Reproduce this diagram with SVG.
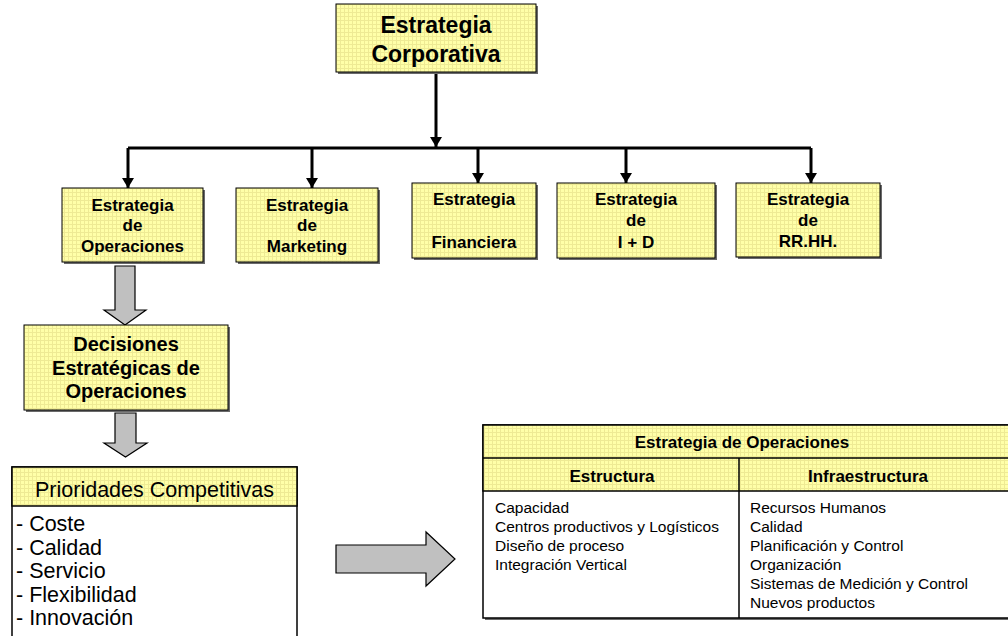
<svg xmlns="http://www.w3.org/2000/svg" width="1008" height="636" viewBox="0 0 1008 636">
  <defs>
    <!-- light yellow fill with a fine grid texture -->
    <pattern id="grid" width="4" height="4" patternUnits="userSpaceOnUse">
      <rect width="4" height="4" fill="#FFFFA8"/>
      <path d="M0 0.5H4M0.5 0V4" stroke="#EEEA94" stroke-width="1"/>
    </pattern>
    <marker id="tip" viewBox="0 0 10 12" refX="10" refY="6" markerWidth="10" markerHeight="12" markerUnits="userSpaceOnUse" orient="auto">
      <path d="M0 0L10 6L0 12Z" fill="#000"/>
    </marker>
    <style>
      .box { fill: url(#grid); stroke: #000; stroke-width: 1; }
      .shadow { fill: #6a6a6a; }
      .plain { fill: #fff; stroke: #000; stroke-width: 1.5; }
      .bar { fill: none; stroke: #000; stroke-width: 3; }
      .arrow { stroke: #000; stroke-width: 3; fill: none; marker-end: url(#tip); }
      .block { fill: #C0C0C0; stroke: #000; stroke-width: 1.2; stroke-linejoin: miter; }
      .rule { stroke: #000; stroke-width: 1.5; fill: none; }
      text { font-family: "Liberation Sans", Arial, sans-serif; fill: #000; }
      .b { font-weight: bold; text-anchor: middle; }
      .t23 { font-size: 23px; }
      .t20 { font-size: 20px; }
      .t17 { font-size: 17px; }
      .reg21 { font-size: 21.5px; }
      .reg15 { font-size: 15.5px; }
    </style>
  </defs>

  <!-- connectors -->
  <g id="connectors">
    <path class="arrow" d="M436 72V147"/>
    <path class="bar" d="M128 148H811"/>
    <path class="arrow" d="M128 148V188"/>
    <path class="arrow" d="M312 148V188"/>
    <path class="arrow" d="M478 148V183"/>
    <path class="arrow" d="M626 148V183"/>
    <path class="arrow" d="M811 148V183"/>
    <!-- block arrows -->
    <path class="block" d="M115 266H135V310H146L125 325L104 310H115Z"/>
    <path class="block" d="M115 413H136V443H147L125.5 457L104 443H115Z"/>
    <path class="block" d="M336 545H426V532L455 559L426 586V573H336Z"/>
  </g>

  <g id="corporativa">
    <rect class="shadow" x="338" y="6" width="200" height="68"/>
    <rect class="box" x="336" y="4" width="200" height="68"/>
    <text class="b t23" x="436" y="33">Estrategia</text>
    <text class="b t23" x="436" y="62">Corporativa</text>
  </g>

  <g id="operaciones">
    <rect class="shadow" x="64" y="190" width="141" height="74"/>
    <rect class="box" x="62" y="188" width="141" height="74"/>
    <text class="b t17" x="132.5" y="211">Estrategia</text>
    <text class="b t17" x="132.5" y="231">de</text>
    <text class="b t17" x="132.5" y="252">Operaciones</text>
  </g>

  <g id="marketing">
    <rect class="shadow" x="238" y="190" width="142" height="74"/>
    <rect class="box" x="236" y="188" width="142" height="74"/>
    <text class="b t17" x="307" y="211">Estrategia</text>
    <text class="b t17" x="307" y="231">de</text>
    <text class="b t17" x="307" y="252">Marketing</text>
  </g>

  <g id="financiera">
    <rect class="shadow" x="414" y="185" width="124" height="75"/>
    <rect class="box" x="412" y="183" width="124" height="75"/>
    <text class="b t17" x="474" y="205">Estrategia</text>
    <text class="b t17" x="474" y="248">Financiera</text>
  </g>

  <g id="id">
    <rect class="shadow" x="559" y="185" width="158" height="75"/>
    <rect class="box" x="557" y="183" width="158" height="75"/>
    <text class="b t17" x="636" y="205">Estrategia</text>
    <text class="b t17" x="636" y="226">de</text>
    <text class="b t17" x="636" y="248">I + D</text>
  </g>

  <g id="rrhh">
    <rect class="shadow" x="738" y="185" width="144" height="74"/>
    <rect class="box" x="736" y="183" width="144" height="74"/>
    <text class="b t17" x="808" y="205">Estrategia</text>
    <text class="b t17" x="808" y="226">de</text>
    <text class="b t17" x="808" y="247">RR.HH.</text>
  </g>

  <g id="decisiones">
    <rect class="shadow" x="26" y="327" width="204" height="85"/>
    <rect class="box" x="24" y="325" width="204" height="85"/>
    <text class="b t20" x="126" y="351">Decisiones</text>
    <text class="b t20" x="126" y="375">Estratégicas de</text>
    <text class="b t20" x="126" y="398">Operaciones</text>
  </g>

  <g id="prioridades">
    <rect class="plain" x="12" y="467" width="285" height="180"/>
    <rect class="box" x="12" y="467" width="285" height="39" style="stroke-width:1.5"/>
    <text class="reg21" x="154.5" y="497" text-anchor="middle">Prioridades Competitivas</text>
    <text class="reg21" x="16" y="531">- Coste</text>
    <text class="reg21" x="16" y="554.5">- Calidad</text>
    <text class="reg21" x="16" y="578">- Servicio</text>
    <text class="reg21" x="16" y="601.5">- Flexibilidad</text>
    <text class="reg21" x="16" y="625">- Innovación</text>
  </g>

  <g id="tabla">
    <rect class="shadow" x="485" y="427" width="530" height="193"/>
    <rect class="plain" x="483" y="425" width="530" height="193"/>
    <rect class="box" x="483" y="425" width="530" height="66" style="stroke-width:1.5"/>
    <path class="rule" d="M483 458H1013M739 458V618"/>
    <text class="b t17" x="742" y="448">Estrategia de Operaciones</text>
    <text class="b t17" x="612" y="482">Estructura</text>
    <text class="b t17" x="868" y="482">Infraestructura</text>
    <g class="reg15">
      <text x="495" y="513">Capacidad</text>
      <text x="495" y="532">Centros productivos y Logísticos</text>
      <text x="495" y="551">Diseño de proceso</text>
      <text x="495" y="570">Integración Vertical</text>
      <text x="750" y="513">Recursos Humanos</text>
      <text x="750" y="532">Calidad</text>
      <text x="750" y="551">Planificación y Control</text>
      <text x="750" y="570">Organización</text>
      <text x="750" y="589">Sistemas de Medición y Control</text>
      <text x="750" y="608">Nuevos productos</text>
    </g>
  </g>
</svg>
